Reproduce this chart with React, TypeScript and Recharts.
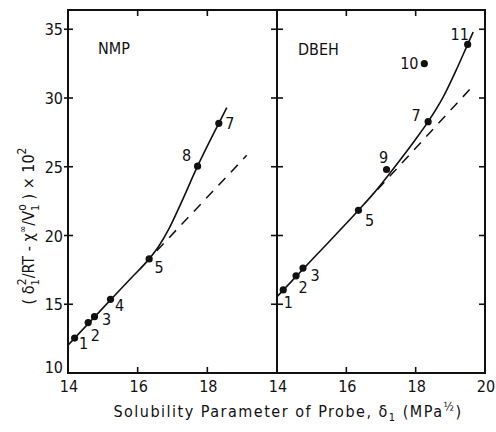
import React from "react";
import { ComposedChart, Scatter, Line, XAxis, YAxis, ReferenceArea } from "recharts";

// ---- data ----
// NMP panel: probe solubility parameter (MPa^1/2) vs retention function
const NMP_IDS = ["1", "2", "3", "4", "5", "8", "7"];
const NMP_DELTA = [14.19, 14.58, 14.76, 15.22, 16.33, 17.72, 18.33];
const NMP_VALUE = [12.54, 13.67, 14.1, 15.36, 18.3, 25.04, 28.16];
// fitted curve through the NMP points
const NMP_CURVE_DELTA = [14.0, 15.0, 15.8, 16.33, 16.6, 16.9, 17.2, 17.72, 18.33, 18.56];
const NMP_CURVE_VALUE = [12.03, 14.72, 16.87, 18.3, 19.2, 20.5, 22.1, 25.04, 28.16, 29.3];
// linear extrapolation (dashed)
const NMP_LINEAR_DELTA = [16.55, 19.13];
const NMP_LINEAR_VALUE = [18.89, 25.83];

// DBEH panel
const DBEH_IDS = ["1", "2", "3", "5", "9", "7", "10", "11"];
const DBEH_DELTA = [14.18, 14.55, 14.75, 16.35, 17.16, 18.36, 18.25, 19.5];
const DBEH_VALUE = [16.04, 17.07, 17.63, 21.83, 24.8, 28.28, 32.5, 33.9];
const DBEH_CURVE_DELTA = [14.0, 15.0, 16.35, 16.8, 17.2, 17.6, 18.0, 18.36, 18.8, 19.2, 19.5, 19.66];
const DBEH_CURVE_VALUE = [15.55, 18.22, 21.83, 23.1, 24.35, 25.65, 27.0, 28.28, 30.1, 32.2, 33.9, 34.8];
const DBEH_LINEAR_DELTA = [16.9, 19.66];
const DBEH_LINEAR_VALUE = [23.34, 30.9];

// axis ticks
const Y_TICKS = [10, 15, 20, 25, 30, 35];
const LEFT_X_TICKS = [14, 16, 18];
const RIGHT_X_TICKS = [14, 16, 18, 20];
const INNER_X_TICKS = [16, 18];
const X_MIN = 14;
const X_MAX = 20;
const Y_MIN = 10;
const Y_MAX = 36.4;

// ---- layout ----
const HEIGHT = 432;
const TOP = 10; // plot top (margin 8 + top axis 2)
const BOTTOM = 373; // plot bottom (432 - margin 28 - axis 31)
const LEFT_PLOT = [68, 277];
const RIGHT_PLOT = [277, 485];

// ---- styling ----
const INK = "#111111";
const FONT = "'DejaVu Sans Condensed', 'DejaVu Sans', sans-serif";
const FS = 16;

// label placement (dx, dy from the marker centre) per probe number
const NMP_LABEL_OFFSET: Record<string, [number, number]> = {
  "1": [9, 5], "2": [7, 12], "3": [12, 2], "4": [9, 6], "5": [10, 8], "8": [-11, -11], "7": [11, 0],
};
const DBEH_LABEL_OFFSET: Record<string, [number, number]> = {
  "1": [5, 12], "2": [7, 11], "3": [12, 7], "5": [11, 10], "9": [-3, -13], "7": [-12, -7], "10": [-15, -1], "11": [-8, -10],
};

const zip = (xs: number[], ys: number[]) => xs.map((x, i) => ({ x, y: ys[i] }));
const points = (ids: string[], xs: number[], ys: number[]) =>
  ids.map((id, i) => ({ id, x: xs[i], y: ys[i] }));

const makeMarker = (offsets: Record<string, [number, number]>) => (props: any) => {
  const { cx, cy, payload } = props;
  const [dx, dy] = offsets[payload.id] || [8, 8];
  return (
    <g>
      <circle cx={cx} cy={cy} r={3.6} fill={INK} />
      <text x={cx + dx} y={cy + dy + 6} textAnchor="middle" fontFamily={FONT} fontSize={FS} fill={INK}>
        {payload.id}
      </text>
    </g>
  );
};

const seg = (x1: number, y1: number, x2: number, y2: number, key?: string) => (
  <path key={key} d={`M${x1},${y1}L${x2},${y2}`} stroke={INK} strokeWidth={1.6} fill="none" />
);

// y tick labels on the outer left axis
const OuterYTick = (props: any) => {
  const { x, y, payload } = props;
  const lift = payload.value === 10 ? -6 : 0;
  return (
    <text x={x - 5} y={y + lift + 6} textAnchor="end" fontFamily={FONT} fontSize={FS} fill={INK}>
      {payload.value}
    </text>
  );
};

// bottom tick labels
const BottomTick = (props: any) => {
  const { x, y, payload } = props;
  return (
    <text x={x + 1} y={y + 19} textAnchor="middle" fontFamily={FONT} fontSize={FS} fill={INK}>
      {payload.value}
    </text>
  );
};

const NoTick = () => <g />;

interface PanelProps {
  ids: string[];
  delta: number[];
  value: number[];
  curveDelta: number[];
  curveValue: number[];
  linearDelta: number[];
  linearValue: number[];
  offsets: Record<string, [number, number]>;
  xTicks: number[];
  outer: boolean;
  width: number;
  margin: { top: number; right: number; bottom: number; left: number };
}

const Panel = (p: PanelProps) => {
  const pts = points(p.ids, p.delta, p.value);
  return (
    <ComposedChart width={p.width} height={HEIGHT} margin={p.margin}>
      <XAxis
        type="number"
        dataKey="x"
        domain={[X_MIN, X_MAX]}
        ticks={p.xTicks}
        interval={0}
        allowDataOverflow
        height={31}
        tickSize={0}
        tickMargin={0}
        tickLine={false}
        axisLine={false}
        tick={<BottomTick />}
      />
      <XAxis
        xAxisId="top"
        orientation="top"
        type="number"
        domain={[X_MIN, X_MAX]}
        ticks={INNER_X_TICKS}
        height={2}
        tickLine={false}
        axisLine={false}
        tick={<NoTick />}
      />
      <YAxis
        type="number"
        domain={[Y_MIN, Y_MAX]}
        ticks={Y_TICKS}
        interval={0}
        allowDataOverflow
        width={p.outer ? 68 : 1}
        tickSize={0}
        tickMargin={0}
        tickLine={false}
        axisLine={false}
        tick={p.outer ? <OuterYTick /> : <NoTick />}
      />
      {!p.outer && (
        <YAxis
          yAxisId="frame"
          orientation="right"
          type="number"
          domain={[Y_MIN, Y_MAX]}
          ticks={Y_TICKS}
          width={2}
          tickLine={false}
          axisLine={false}
          tick={<NoTick />}
        />
      )}
      {/* panel frame */}
      <ReferenceArea
        x1={X_MIN}
        x2={X_MAX}
        y1={Y_MIN}
        y2={Y_MAX}
        fill="none"
        fillOpacity={0}
        stroke={INK}
        strokeWidth={2}
        ifOverflow="visible"
      />
      <Line
        data={zip(p.linearDelta, p.linearValue)}
        dataKey="y"
        type="linear"
        stroke={INK}
        strokeWidth={1.5}
        strokeDasharray="10 8"
        dot={false}
        isAnimationActive={false}
      />
      <Line
        data={zip(p.curveDelta, p.curveValue)}
        dataKey="y"
        type="monotone"
        stroke={INK}
        strokeWidth={1.6}
        dot={false}
        isAnimationActive={false}
      />
      <Scatter data={pts} dataKey="y" shape={makeMarker(p.offsets)} isAnimationActive={false} />
    </ComposedChart>
  );
};

// frame and tick marks of one panel, on the same linear mapping as the plot area
const FrameMarks = ({ plot, outer }: { plot: number[]; outer: boolean }) => {
  const [x0, x1] = plot;
  const sx = (v: number) => x0 + ((v - X_MIN) / (X_MAX - X_MIN)) * (x1 - x0);
  const sy = (v: number) => BOTTOM - ((v - Y_MIN) / (Y_MAX - Y_MIN)) * (BOTTOM - TOP);
  const inner = Y_TICKS.filter((v) => v > Y_MIN);
  return (
    <g>
      <rect x={x0} y={TOP} width={x1 - x0} height={BOTTOM - TOP} fill="none" stroke={INK} strokeWidth={2} />
      {INNER_X_TICKS.map((v) => seg(sx(v), BOTTOM, sx(v), BOTTOM - 6, `b${v}`))}
      {INNER_X_TICKS.map((v) => seg(sx(v), TOP, sx(v), TOP + 6, `t${v}`))}
      {inner.map((v) =>
        outer ? seg(x0 - 4, sy(v), x0 + 5, sy(v), `l${v}`) : seg(x0 - 6, sy(v), x0 + 6, sy(v), `l${v}`)
      )}
      {!outer && inner.map((v) => seg(x1 - 6, sy(v), x1, sy(v), `r${v}`))}
    </g>
  );
};

export default function App() {
  return (
    <div style={{ position: "absolute", left: 0, top: 0, width: 496, height: HEIGHT }}>
      <style>{".recharts-surface { overflow: visible; }"}</style>
      <svg width={496} height={HEIGHT} style={{ position: "absolute", left: 0, top: 0 }}>
        <text x={98} y={54} fontFamily={FONT} fontSize={FS} fill={INK}>NMP</text>
        <text x={298} y={55} fontFamily={FONT} fontSize={FS} fill={INK}>DBEH</text>
        <text transform="translate(34,226) rotate(-90)" textAnchor="middle" fontFamily={FONT} fontSize={FS} fill={INK}>
          {"( δ"}
          <tspan dy={5} fontSize={11}>1</tspan>
          <tspan dx={-6} dy={-13} fontSize={12}>2</tspan>
          <tspan dy={8}>{"/RT - χ"}</tspan>
          <tspan dy={-8} fontSize={10}>∞</tspan>
          <tspan dy={8}>/V</tspan>
          <tspan dy={5} fontSize={11}>1</tspan>
          <tspan dx={-6} dy={-13} fontSize={12}>o</tspan>
          <tspan dy={8}>{" ) × 10"}</tspan>
          <tspan dy={-8} fontSize={12}>2</tspan>
        </text>
        <text x={288} y={417} textAnchor="middle" fontFamily={FONT} fontSize={FS} fill={INK} letterSpacing={1.5}>
          {"Solubility Parameter of Probe, δ"}
          <tspan dy={4} fontSize={11}>1</tspan>
          <tspan dy={-4}>{" (MPa"}</tspan>
          <tspan dy={-6} fontSize={12}>½</tspan>
          <tspan dy={6}>)</tspan>
        </text>
      </svg>
      <div style={{ position: "relative", display: "flex", width: 496, height: HEIGHT }}>
        <Panel
          ids={NMP_IDS}
          delta={NMP_DELTA}
          value={NMP_VALUE}
          curveDelta={NMP_CURVE_DELTA}
          curveValue={NMP_CURVE_VALUE}
          linearDelta={NMP_LINEAR_DELTA}
          linearValue={NMP_LINEAR_VALUE}
          offsets={NMP_LABEL_OFFSET}
          xTicks={LEFT_X_TICKS}
          outer
          width={277}
          margin={{ top: 8, right: 0, bottom: 28, left: 0 }}
        />
        <div style={{ marginLeft: -1 }}>
          <Panel
            ids={DBEH_IDS}
            delta={DBEH_DELTA}
            value={DBEH_VALUE}
            curveDelta={DBEH_CURVE_DELTA}
            curveValue={DBEH_CURVE_VALUE}
            linearDelta={DBEH_LINEAR_DELTA}
            linearValue={DBEH_LINEAR_VALUE}
            offsets={DBEH_LABEL_OFFSET}
            xTicks={RIGHT_X_TICKS}
            outer={false}
            width={219}
            margin={{ top: 8, right: 8, bottom: 28, left: 0 }}
          />
        </div>
      </div>
      <svg
        width={496}
        height={HEIGHT}
        style={{ position: "absolute", left: 0, top: 0, pointerEvents: "none" }}
      >
        <FrameMarks plot={LEFT_PLOT} outer />
        <FrameMarks plot={RIGHT_PLOT} outer={false} />
      </svg>
    </div>
  );
}
